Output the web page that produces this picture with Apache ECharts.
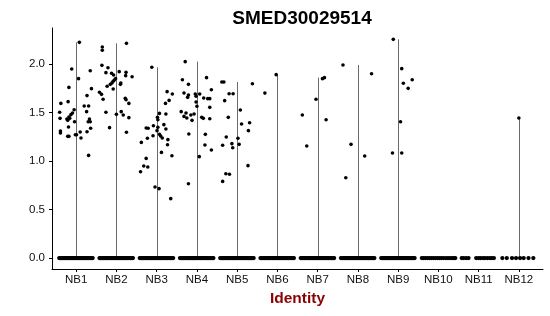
<!DOCTYPE html>
<html>
<head>
<meta charset="utf-8">
<script src="https://cdn.jsdelivr.net/npm/echarts@6/dist/echarts.min.js"></script>
<style>
html,body{margin:0;padding:0;background:#fff;}
#chart{width:550px;height:316px;}
</style>
</head>
<body>
<div id="chart"></div>
<script>
// ---------- data ----------
const title = 'SMED30029514';
const categories = ['NB1','NB2','NB3','NB4','NB5','NB6','NB7','NB8','NB9','NB10','NB11','NB12'];
const yTicks = [0, 0.5, 1.0, 1.5, 2.0];

// expressed cells: group, expression value, horizontal jitter (category units)
const pointGroup = [
  'NB1','NB1','NB1','NB1','NB1','NB1','NB1','NB1','NB1','NB1','NB1','NB1','NB1','NB1','NB1','NB1','NB1','NB1','NB1','NB1','NB1','NB1','NB1','NB1','NB1','NB1','NB1','NB1','NB1','NB1','NB1','NB1','NB1','NB1','NB1','NB1','NB1',
  'NB2','NB2','NB2','NB2','NB2','NB2','NB2','NB2','NB2','NB2','NB2','NB2','NB2','NB2','NB2','NB2','NB2','NB2','NB2','NB2','NB2','NB2','NB2','NB2','NB2','NB2','NB2','NB2','NB2','NB2','NB2','NB2','NB2','NB2',
  'NB3','NB3','NB3','NB3','NB3','NB3','NB3','NB3','NB3','NB3','NB3','NB3','NB3','NB3','NB3','NB3','NB3','NB3','NB3','NB3','NB3','NB3','NB3','NB3','NB3','NB3','NB3','NB3','NB3','NB3','NB3','NB3','NB3',
  'NB4','NB4','NB4','NB4','NB4','NB4','NB4','NB4','NB4','NB4','NB4','NB4','NB4','NB4','NB4','NB4','NB4','NB4','NB4','NB4','NB4','NB4','NB4','NB4','NB4','NB4','NB4','NB4','NB4','NB4','NB4','NB4','NB4',
  'NB5','NB5','NB5','NB5','NB5','NB5','NB5','NB5','NB5','NB5','NB5','NB5','NB5','NB5','NB5','NB5','NB5','NB5','NB5','NB5','NB5',
  'NB6','NB6',
  'NB7','NB7','NB7','NB7','NB7','NB7',
  'NB8','NB8','NB8','NB8','NB8',
  'NB9','NB9','NB9','NB9','NB9','NB9','NB9','NB9',
  'NB12'
];
const pointValue = [
  2.223,1.948,1.849,1.931,1.746,1.759,1.594,1.612,1.674,1.567,1.567,1.502,1.440,1.529,1.495,1.478,1.454,1.433,1.440,1.419,1.405,1.509,1.433,1.405,1.405,1.350,1.309,1.289,1.302,1.299,1.271,1.271,1.337,1.254,1.254,1.237,1.058,
  2.213,2.175,2.141,1.986,1.962,1.921,1.911,1.904,1.887,1.914,1.880,1.869,1.770,1.821,1.835,1.849,1.804,1.790,1.804,1.790,1.708,1.687,1.636,1.742,1.646,1.632,1.594,1.502,1.481,1.509,1.474,1.447,1.344,1.296,
  1.966,1.192,1.715,1.691,1.625,1.594,1.491,1.485,1.450,1.426,1.347,1.364,1.340,1.337,1.313,1.330,1.375,1.275,1.261,1.234,1.258,1.237,1.220,1.168,1.089,1.055,1.027,0.948,0.938,0.890,0.732,0.715,0.612,
  2.024,1.838,1.859,1.790,1.701,1.680,1.656,1.691,1.667,1.691,1.650,1.643,1.735,1.643,1.608,1.553,1.564,1.509,1.495,1.460,1.443,1.474,1.485,1.419,1.450,1.440,1.436,1.278,1.275,1.165,1.113,1.045,0.766,
  1.814,1.814,1.797,1.694,1.694,1.622,1.526,1.450,1.381,1.395,1.313,1.247,1.234,1.179,1.172,1.162,1.137,0.952,0.869,0.863,0.790,
  1.890,1.700,
  1.474,1.155,1.636,1.849,1.859,1.426,
  1.990,1.900,1.172,1.052,0.828,
  2.254,1.952,1.801,1.838,1.749,1.405,1.082,1.082,
  1.443
];
const pointJitter = [
  0.08,-0.11,0.06,0.35,0.38,-0.18,-0.38,-0.20,0.27,0.20,0.31,-0.41,-0.40,-0.05,-0.09,-0.13,-0.18,-0.23,-0.16,-0.21,-0.04,0.26,0.33,0.30,0.35,-0.19,-0.39,-0.39,0.27,0.10,-0.02,0.01,0.36,-0.21,-0.18,0.12,0.31,
  0.25,-0.35,-0.35,-0.36,-0.21,0.07,-0.26,-0.12,-0.07,0.24,0.23,0.39,-0.23,-0.08,-0.05,-0.02,-0.11,-0.15,0.11,0.10,-0.42,-0.37,-0.33,-0.08,0.22,0.24,0.31,-0.26,0.00,0.12,0.17,0.31,-0.17,0.25,
  -0.12,-0.38,0.26,0.39,0.31,0.22,0.07,0.23,0.02,0.03,0.03,-0.08,-0.26,-0.21,0.01,0.23,0.18,0.07,-0.09,-0.23,0.10,0.14,0.28,0.27,0.12,0.38,-0.26,-0.32,-0.22,-0.40,-0.04,0.06,0.35,
  -0.29,-0.36,0.24,-0.21,-0.32,-0.21,-0.23,-0.04,-0.02,0.07,0.17,0.27,0.36,0.32,-0.02,0.32,0.00,-0.39,-0.27,-0.32,-0.25,-0.15,-0.07,-0.12,0.12,0.16,0.32,-0.20,0.21,0.20,0.36,0.06,-0.21,
  -0.38,-0.33,0.38,-0.20,-0.10,-0.31,0.08,-0.22,0.11,0.31,0.28,-0.27,0.02,-0.13,0.05,-0.36,-0.11,0.27,-0.28,-0.19,-0.36,
  -0.03,-0.31,
  -0.38,-0.27,-0.04,0.12,0.17,0.21,
  -0.37,0.34,-0.17,0.17,-0.30,
  -0.12,0.09,0.13,0.35,0.25,0.06,-0.14,0.09,
  0.00
];

// zero-expression cells: jitter offsets of the dots along y = 0
const zeroGroupsDense = ['NB1','NB2','NB3','NB4','NB5','NB6','NB7','NB8','NB9'];
const zeroJitterDense = [-0.42,-0.39,-0.37,-0.34,-0.32,-0.29,-0.26,-0.24,-0.21,-0.19,-0.16,-0.13,-0.11,-0.08,-0.06,-0.03,0.00,0.02,0.05,0.08,0.10,0.13,0.15,0.18,0.21,0.23,0.26,0.28,0.31,0.34,0.36,0.39,0.41];
const zeroJitterNB10 = [-0.41,-0.37,-0.32,-0.27,-0.22,-0.17,-0.12,-0.07,-0.02,0.03,0.08,0.13,0.19,0.24,0.29,0.34,0.38,0.42];
const zeroJitterNB11 = [-0.42,-0.37,-0.31,-0.25,-0.06,0.00,0.05,0.11,0.16,0.22,0.28,0.33,0.38];
const zeroJitterNB12 = [-0.41,-0.30,-0.17,-0.07,0.03,0.12,0.24,0.36];

// ---------- build ----------
const catPos = name => categories.indexOf(name) + 1;

const pointData = pointValue.map((v, i) => [catPos(pointGroup[i]) + pointJitter[i], v]);
const zeroData = [];
zeroGroupsDense.forEach(g => zeroJitterDense.forEach(d => zeroData.push([catPos(g) + d, 0])));
zeroJitterNB10.forEach(d => zeroData.push([catPos('NB10') + d, 0]));
zeroJitterNB11.forEach(d => zeroData.push([catPos('NB11') + d, 0]));
zeroJitterNB12.forEach(d => zeroData.push([catPos('NB12') + d, 0]));

// violin extent (thin violins: from 0 up to the group maximum)
const violinData = [];
categories.forEach(c => {
  const vals = pointValue.filter((v, i) => pointGroup[i] === c);
  if (vals.length) violinData.push([catPos(c), Math.max.apply(null, vals)]);
});

const FONT = '"Liberation Sans", Arial, Helvetica, sans-serif';
const catTicks = categories.map((c, i) => i + 1);

const chart = echarts.init(document.getElementById('chart'), null, {renderer: 'canvas'});
chart.setOption({
  animation: false,
  backgroundColor: '#ffffff',
  title: {
    text: title,
    left: 297,
    top: 4,
    textAlign: 'center',
    textStyle: {fontFamily: FONT, fontSize: 19, fontWeight: 'bold', color: '#000'}
  },
  grid: {left: 52, right: 7, top: 28, bottom: 47, containLabel: false},
  xAxis: {
    type: 'value',
    min: 0.4,
    max: 12.6,
    splitLine: {show: false},
    axisLine: {show: true, onZero: false, lineStyle: {color: '#000', width: 1}},
    axisTick: {show: true, length: 3, customValues: catTicks, lineStyle: {color: '#000', width: 1}},
    axisLabel: {
      show: true, customValues: catTicks, margin: 5,
      fontFamily: FONT, fontSize: 11.5, color: '#111',
      formatter: v => categories[Math.round(v) - 1]
    },
    name: 'Identity',
    nameLocation: 'middle',
    nameGap: 21,
    nameTextStyle: {fontFamily: FONT, fontSize: 15.5, fontWeight: 'bold', color: '#8B0000'}
  },
  yAxis: {
    type: 'value',
    min: -0.113,
    max: 2.371,
    splitLine: {show: false},
    axisLine: {show: true, onZero: false, lineStyle: {color: '#000', width: 1}},
    axisTick: {show: true, length: 3, customValues: yTicks, lineStyle: {color: '#000', width: 1}},
    axisLabel: {
      show: true, customValues: yTicks, margin: 7,
      fontFamily: FONT, fontSize: 11.5, color: '#111',
      formatter: v => Number(v).toFixed(1)
    }
  },
  series: [
    {
      type: 'custom',
      data: violinData,
      z: 1,
      renderItem: function (params, api) {
        const x = api.value(0), top = api.value(1);
        const p0 = api.coord([x, 0]);
        const p1 = api.coord([x, top]);
        const px = Math.round(p0[0]) + 0.5;
        return {
          type: 'line',
          shape: {x1: px, y1: p0[1], x2: px, y2: p1[1]},
          style: {stroke: '#6a6a6a', lineWidth: 1}
        };
      }
    },
    {
      type: 'scatter',
      data: zeroData,
      z: 2,
      symbol: 'circle',
      symbolSize: 4.3,
      itemStyle: {color: '#000', opacity: 1},
      emphasis: {disabled: true}
    },
    {
      type: 'scatter',
      data: pointData,
      z: 3,
      symbol: 'circle',
      symbolSize: 3.6,
      itemStyle: {color: '#000', opacity: 1},
      emphasis: {disabled: true}
    }
  ]
});
</script>
</body>
</html>
